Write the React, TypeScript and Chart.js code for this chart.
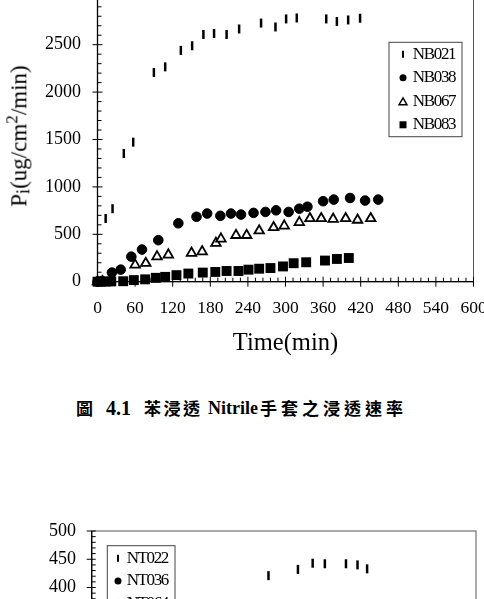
import React, { useEffect, useRef } from 'react';
import { Chart, registerables } from 'chart.js';

Chart.register(...registerables);

const SERIF = "'Liberation Serif', 'Times New Roman', serif";
const CJK = "'Noto Sans CJK TC', 'Noto Sans CJK SC', sans-serif";

// ---- Figure 4.1 : benzene permeation through Nitrile gloves ----
const nb021Time = [13, 24, 42, 57, 90, 108, 133, 151, 169, 186, 206, 226, 261, 284, 301, 318, 365, 382, 400, 419];
const nb021Rate = [667, 770, 1352, 1472, 2207, 2266, 2440, 2489, 2608, 2618, 2608, 2666, 2728, 2687, 2772, 2782, 2772, 2745, 2761, 2779];

const nb038Time = [0, 7, 23, 37, 54, 71, 97, 129, 158, 175, 196, 213, 229, 249, 268, 285, 305, 322, 335, 360, 377, 403, 427, 448];
const nb038Rate = [0, 8, 96, 127, 264, 339, 438, 616, 685, 719, 695, 719, 708, 726, 736, 753, 736, 770, 791, 849, 866, 883, 856, 866];

const nb067Time = [0, 8, 60, 77, 95, 113, 150, 167, 189, 197, 221, 238, 258, 281, 298, 322, 339, 357, 376, 396, 415, 436];
const nb067Rate = [0, 2, 178, 195, 264, 284, 302, 318, 407, 452, 490, 490, 538, 572, 589, 626, 667, 667, 661, 667, 651, 667];

const nb083Time = [0, 6, 14, 22, 41, 58, 76, 93, 108, 126, 145, 168, 188, 206, 225, 241, 258, 276, 296, 313, 333, 363, 382, 401];
const nb083Rate = [0, 0, 2, 3, 5, 17, 25, 41, 51, 69, 86, 96, 103, 113, 113, 127, 137, 144, 161, 195, 205, 223, 240, 250];

// ---- second figure (only its upper part is visible) ----
const nt022Time = [276, 322, 345, 364, 397, 415, 430];
const nt022Rate = [421, 432, 443, 442, 442, 440, 433];
const nt036Time: number[] = [];
const nt036Rate: number[] = [];
const nt064Time: number[] = [];
const nt064Rate: number[] = [];

const topLabels = ['NB021', 'NB038', 'NB067', 'NB083'];
const bottomLabels = ['NT022', 'NT036', 'NT064'];

const pts = (xs: number[], ys: number[]) => xs.map((x, i) => ({ x, y: ys[i] }));

function drawMarker(ctx: CanvasRenderingContext2D, style: string, x: number, y: number, s: number) {
  ctx.save();
  ctx.strokeStyle = '#000';
  ctx.fillStyle = '#000';
  ctx.beginPath();
  if (style === 'line') {
    ctx.lineWidth = 2;
    ctx.moveTo(x, y - s);
    ctx.lineTo(x, y + s);
    ctx.stroke();
  } else if (style === 'circle') {
    ctx.arc(x, y, s, 0, Math.PI * 2);
    ctx.fill();
  } else if (style === 'triangle') {
    const r = s * 1.3;
    for (let k = 0; k < 3; k++) {
      const a = (k * 2 * Math.PI) / 3;
      const px = x + Math.sin(a) * r;
      const py = y + r * 0.25 - Math.cos(a) * r;
      if (k === 0) ctx.moveTo(px, py);
      else ctx.lineTo(px, py);
    }
    ctx.closePath();
    ctx.fillStyle = '#fff';
    ctx.fill();
    ctx.lineWidth = 1.5;
    ctx.stroke();
  } else if (style === 'rect') {
    ctx.fillRect(x - s, y - s, 2 * s, 2 * s);
  }
  ctx.restore();
}

const framePlugin = {
  id: 'frame',
  beforeDatasetsDraw(chart: any, _args: any, o: any) {
    const { ctx, chartArea: a, scales } = chart;
    const x = scales.x;
    const y = scales.y;
    const seg = (x1: number, y1: number, x2: number, y2: number) => {
      ctx.beginPath();
      ctx.moveTo(x1, y1);
      ctx.lineTo(x2, y2);
      ctx.stroke();
    };
    ctx.save();
    ctx.strokeStyle = o.frameColor;
    ctx.lineWidth = 1;
    ctx.strokeRect(a.left, a.top, a.right - a.left, a.bottom - a.top);
    ctx.strokeStyle = '#000';
    ctx.lineWidth = o.axisWidth;
    seg(a.left, a.top, a.left, a.bottom);
    seg(a.left, a.bottom, a.right, a.bottom);
    ctx.lineWidth = 1;
    for (let v = y.min; v <= y.max + 1e-9; v += o.yMinor) {
      const py = y.getPixelForValue(v);
      const major = Math.abs(v / o.yMajor - Math.round(v / o.yMajor)) < 1e-6;
      if (major) seg(a.left - o.majorOut, py, a.left + o.majorIn, py);
      else seg(a.left, py, a.left + o.minorIn, py);
    }
    for (let v = x.min; v <= x.max + 1e-9; v += o.xMinor) {
      const px = x.getPixelForValue(v);
      const major = Math.abs(v / o.xMajor - Math.round(v / o.xMajor)) < 1e-6;
      if (major) seg(px, a.bottom + o.majorOut, px, a.bottom - o.majorIn);
      else seg(px, a.bottom, px, a.bottom - o.minorIn);
    }
    ctx.restore();
  },
};

const boxLegendPlugin = {
  id: 'boxLegend',
  afterDraw(chart: any, _args: any, o: any) {
    const { ctx } = chart;
    ctx.save();
    ctx.fillStyle = '#fff';
    ctx.fillRect(o.x, o.y, o.w, o.h);
    ctx.strokeStyle = '#444';
    ctx.lineWidth = 1;
    ctx.strokeRect(o.x, o.y, o.w, o.h);
    ctx.font = `${o.fontSize}px ${SERIF}`;
    (ctx as any).letterSpacing = o.letterSpacing;
    ctx.textBaseline = 'middle';
    ctx.textAlign = 'left';
    chart.data.datasets.forEach((ds: any, i: number) => {
      const cy = o.y + o.firstRow + i * o.rowGap;
      drawMarker(ctx, ds.pointStyle, o.markerX, cy, o.markerSize);
      ctx.fillStyle = '#000';
      ctx.fillText(ds.label, o.textX, cy);
    });
    ctx.restore();
  },
};

function dataset(label: string, xs: number[], ys: number[], style: string) {
  const base: any = {
    label,
    data: pts(xs, ys),
    pointStyle: style,
    pointBorderColor: '#000',
    pointBackgroundColor: '#000',
    clip: false,
    showLine: false,
  };
  if (style === 'line') {
    base.pointRotation = 90;
    base.pointRadius = 4.5;
    base.pointBorderWidth = 2.5;
  } else if (style === 'circle') {
    base.pointRadius = 4.8;
    base.pointBorderWidth = 1;
  } else if (style === 'triangle') {
    base.pointRadius = 5.5;
    base.pointBorderWidth = 1.8;
    base.pointBackgroundColor = '#fff';
  } else {
    base.pointRadius = 7;
    base.pointBorderWidth = 0;
  }
  return base;
}

const plainTick = (hideAbove: number) => (v: any) => (Number(v) >= hideAbove ? '' : String(v));

function topConfig(): any {
  return {
    type: 'scatter',
    data: {
      datasets: [
        dataset(topLabels[0], nb021Time, nb021Rate, 'line'),
        dataset(topLabels[1], nb038Time, nb038Rate, 'circle'),
        dataset(topLabels[2], nb067Time, nb067Rate, 'triangle'),
        dataset(topLabels[3], nb083Time, nb083Rate, 'rect'),
      ],
    },
    options: {
      responsive: false,
      animation: false,
      devicePixelRatio: 1,
      events: [],
      layout: { padding: { left: 0, top: 19.5, right: 46.5, bottom: 0 } },
      scales: {
        x: {
          type: 'linear',
          min: 0,
          max: 600,
          ticks: { stepSize: 60, color: '#000', font: { family: SERIF, size: 17.5 }, padding: 16, maxRotation: 0, autoSkip: false, callback: plainTick(1e9) },
          grid: { display: false, drawTicks: false },
          border: { display: false },
          title: { display: true, text: 'Time(min)', color: '#000', font: { family: SERIF, size: 24.5 }, padding: { top: 0, bottom: 1.5 } },
          afterFit: (s: any) => { s.height = 78.3; },
        },
        y: {
          type: 'linear',
          min: 0,
          max: 3000,
          ticks: { stepSize: 500, color: '#000', font: { family: SERIF, size: 18 }, padding: 16.5, callback: plainTick(3000) },
          grid: { display: false, drawTicks: false },
          border: { display: false },
          afterFit: (s: any) => { s.width = 97.5; },
        },
      },
      plugins: {
        legend: { display: false },
        tooltip: { enabled: false },
        frame: { frameColor: '#555', axisWidth: 1.3, xMajor: 60, xMinor: 12, yMajor: 500, yMinor: 100, majorOut: 5, majorIn: 5, minorIn: 4 },
        boxLegend: { x: 389, y: 72.3, w: 73, h: 94.4, firstRow: 12, rowGap: 23.5, markerX: 403, textX: 412.7, fontSize: 17, letterSpacing: '-1.3px', markerSize: 3.5 },
      },
    },
    plugins: [framePlugin, boxLegendPlugin],
  };
}

function bottomConfig(): any {
  return {
    type: 'scatter',
    data: {
      datasets: [
        dataset(bottomLabels[0], nt022Time, nt022Rate, 'line'),
        dataset(bottomLabels[1], nt036Time, nt036Rate, 'circle'),
        dataset(bottomLabels[2], nt064Time, nt064Rate, 'triangle'),
      ],
    },
    options: {
      responsive: false,
      animation: false,
      devicePixelRatio: 1,
      events: [],
      layout: { padding: { left: 0, top: 31, right: 44, bottom: 0 } },
      scales: {
        x: {
          type: 'linear',
          min: 0,
          max: 600,
          ticks: { stepSize: 60, color: '#000', font: { family: SERIF, size: 17.5 }, padding: 16, maxRotation: 0, autoSkip: false, callback: plainTick(1e9) },
          grid: { display: false, drawTicks: false },
          border: { display: false },
          afterFit: (s: any) => { s.height = 25.5; },
        },
        y: {
          type: 'linear',
          min: 0,
          max: 500,
          ticks: { stepSize: 50, color: '#000', font: { family: SERIF, size: 18 }, padding: 15.7, callback: plainTick(1e9) },
          grid: { display: false, drawTicks: false },
          border: { display: false },
          afterFit: (s: any) => { s.width = 91.7; },
        },
      },
      plugins: {
        legend: { display: false },
        tooltip: { enabled: false },
        frame: { frameColor: '#555', axisWidth: 1.3, xMajor: 60, xMinor: 12, yMajor: 50, yMinor: 10, majorOut: 5, majorIn: 4, minorIn: 4 },
        boxLegend: { x: 107.3, y: 45.7, w: 67.7, h: 94, firstRow: 12.6, rowGap: 22.7, markerX: 118, textX: 126.7, fontSize: 17, letterSpacing: '-1.4px', markerSize: 3.5 },
      },
    },
    plugins: [framePlugin, boxLegendPlugin],
  };
}

export default function App() {
  const topRef = useRef<HTMLCanvasElement>(null);
  const botRef = useRef<HTMLCanvasElement>(null);

  useEffect(() => {
    const c1 = new Chart(topRef.current as HTMLCanvasElement, topConfig());
    const c2 = new Chart(botRef.current as HTMLCanvasElement, bottomConfig());
    return () => {
      c1.destroy();
      c2.destroy();
    };
  }, []);

  const cap: React.CSSProperties = { position: 'absolute', top: 398, lineHeight: '20px', whiteSpace: 'nowrap', fontWeight: 700, color: '#000' };

  return (
    <div style={{ position: 'absolute', left: 0, top: 0, width: 484, height: 599, overflow: 'hidden', background: '#fff' }}>
      <canvas ref={topRef} width={520} height={390} style={{ position: 'absolute', left: 0, top: -30, width: 520, height: 390 }} />
      <div
        style={{
          position: 'absolute',
          left: 18,
          top: 136,
          transform: 'translate(-50%, -50%) rotate(-90deg)',
          fontFamily: SERIF,
          fontSize: 23,
          lineHeight: '26px',
          whiteSpace: 'nowrap',
          color: '#000',
        }}
      >
        P<sub style={{ fontSize: '0.8em', verticalAlign: '-0.2em' }}>i</sub>(ug/cm<sup style={{ fontSize: '0.75em', verticalAlign: '0.5em' }}>2</sup>/min)
      </div>
      <span style={{ ...cap, left: 76, fontFamily: CJK, fontSize: 17 }}>圖</span>
      <span style={{ ...cap, left: 106, fontFamily: SERIF, fontSize: 20 }}>4.1</span>
      <span style={{ ...cap, left: 144, fontFamily: CJK, fontSize: 17, letterSpacing: 2.5 }}>苯浸透</span>
      <span style={{ ...cap, left: 208, fontFamily: SERIF, fontSize: 18 }}>Nitrile</span>
      <span style={{ ...cap, left: 260, fontFamily: CJK, fontSize: 17, letterSpacing: 4 }}>手套之浸透速率</span>
      <canvas ref={botRef} width={520} height={340} style={{ position: 'absolute', left: 0, top: 500, width: 520, height: 340 }} />
    </div>
  );
}
